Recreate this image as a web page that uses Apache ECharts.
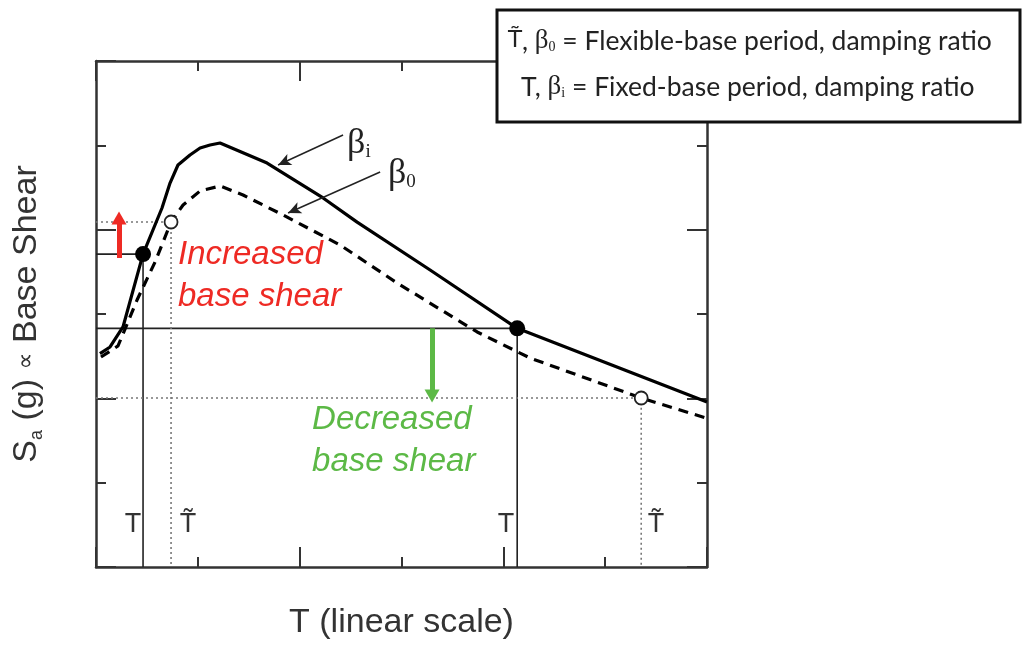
<!DOCTYPE html>
<html><head><meta charset="utf-8">
<script src="https://cdn.jsdelivr.net/npm/echarts@6/dist/echarts.min.js"></script>
<style>html,body{margin:0;padding:0;background:#fff}#c{width:1034px;height:645px}</style>
</head><body><div id="c"></div>
<script>
// Fixed-base spectrum (beta_i), solid
const fixedT  = [0.039,0.138,0.265,0.462,0.648,0.727,0.805,0.923,1.022,1.12,1.218,1.68,2.23,2.564,3.281,4.136,6.0];
const fixedSa = [2.53,2.609,2.846,3.71,4.257,4.553,4.767,4.886,4.969,5.004,5.028,4.79,4.376,4.09,3.522,2.83,1.957];
// Flexible-base spectrum (beta_0), dashed
const flexT  = [0.049,0.216,0.403,0.58,0.737,0.855,1.022,1.218,1.444,1.837,2.397,2.957,3.743,4.263,5.354,5.99];
const flexSa = [2.49,2.621,3.166,3.617,4.091,4.293,4.459,4.518,4.411,4.174,3.818,3.368,2.787,2.478,2.004,1.767];
// Marked periods
const fixedPtT  = [0.462, 4.136];
const fixedPtSa = [3.71, 2.83];
const flexPtT   = [0.737, 5.354];
const flexPtSa  = [4.091, 2.004];
// Change arrows [T, Sa start, Sa end]
const increaseArrow = [0.226, 3.664, 4.139];
const decreaseArrow = [3.30, 2.83, 2.028];
// Tick values
const axisMin = 0, axisMax = 6, axisStep = 2;

const zip = (a, b) => a.map((v, i) => [v, b[i]]);
const RED = '#ee2a24', GREEN = '#5cb946', INK = '#222';

const chart = echarts.init(document.getElementById('c'), null, {renderer: 'canvas'});

function xAx(pos, withName) {
  return {
    type: 'value', min: axisMin, max: axisMax, interval: axisStep, position: pos,
    axisLine: {show: true, onZero: false, lineStyle: {color: '#333', width: 2.5}},
    axisTick: {show: true, inside: true, length: 20, lineStyle: {color: '#333', width: 2}},
    minorTick: {show: true, splitNumber: 2, length: 10, lineStyle: {color: '#333', width: 2}},
    axisLabel: {show: false}, splitLine: {show: false}, minorSplitLine: {show: false},
    name: withName ? 'T (linear scale)' : '', nameLocation: 'middle', nameGap: 39,
    nameTextStyle: {fontFamily: 'Liberation Sans', fontSize: 34, color: '#333'}
  };
}
function yAx(pos, withName) {
  return {
    type: 'value', min: axisMin, max: axisMax, interval: axisStep, position: pos,
    axisLine: {show: true, onZero: false, lineStyle: {color: '#333', width: 2.5}},
    axisTick: {show: true, inside: true, length: 20, lineStyle: {color: '#333', width: 2}},
    minorTick: {show: true, splitNumber: 2, length: 10, lineStyle: {color: '#333', width: 2}},
    axisLabel: {show: false}, splitLine: {show: false}, minorSplitLine: {show: false},
    name: withName ? '{n|S}{s|a}{n| (g) }{p|\u221D}{n| Base Shear}' : '', nameLocation: 'middle', nameGap: 50,
    nameTextStyle: {
      color: '#333',
      rich: {
        n: {fontFamily: 'Liberation Sans', fontSize: 34, color: '#333', lineHeight: 38},
        p: {fontFamily: 'DejaVu Sans', fontSize: 24, color: '#333', lineHeight: 38},
        s: {fontFamily: 'Liberation Sans', fontSize: 18, color: '#333', lineHeight: 24, verticalAlign: 'bottom'}
      }
    }
  };
}

function textPoint(x, y, text, style) {
  return {
    type: 'scatter', symbolSize: 0, silent: true, z: 6,
    itemStyle: {opacity: 1},
    data: [{value: [x, y]}],
    label: Object.assign({show: true, opacity: 1, position: [0, 0], formatter: text}, style)
  };
}

const tStyle = {fontFamily: 'Liberation Sans', fontSize: 27, color: '#333', align: 'center', verticalAlign: 'middle'};
const betaRich = {
  b: {fontFamily: 'Liberation Serif', fontSize: 36, color: '#222'},
  s: {fontFamily: 'Liberation Serif', fontSize: 19, color: '#222', verticalAlign: 'bottom', lineHeight: 28}
};

const option = {
  animation: false,
  backgroundColor: '#fff',
  grid: {left: 96, top: 61, right: 327, bottom: 78, containLabel: false},
  xAxis: [xAx('bottom', true), xAx('top', false)],
  yAxis: [yAx('left', true), yAx('right', false)],
  series: [
    ...fixedPtT.map((t, i) => ({
      type: 'line', symbol: 'none', silent: true, z: 2,
      data: [[axisMin, fixedPtSa[i]], [t, fixedPtSa[i]], [t, axisMin]],
      lineStyle: {color: '#222', width: 1.6}
    })),
    ...flexPtT.map((t, i) => ({
      type: 'line', symbol: 'none', silent: true, z: 2,
      data: [[axisMin, flexPtSa[i]], [t, flexPtSa[i]], [t, axisMin]],
      lineStyle: {color: '#777', width: 1.6, type: [2, 3]}
    })),
    {
      name: 'beta_i', type: 'line', symbol: 'none', z: 4,
      data: zip(fixedT, fixedSa), lineStyle: {color: '#000', width: 3.2}
    },
    {
      name: 'beta_0', type: 'line', symbol: 'none', z: 4,
      data: zip(flexT, flexSa), lineStyle: {color: '#000', width: 3.2, type: [10, 7]}
    },
    {
      type: 'scatter', z: 5, symbol: 'circle', symbolSize: 16,
      data: zip(fixedPtT, fixedPtSa), itemStyle: {color: '#000', opacity: 1}
    },
    {
      type: 'scatter', z: 5, symbol: 'circle', symbolSize: 13,
      data: zip(flexPtT, flexPtSa), itemStyle: {color: '#fff', borderColor: '#222', borderWidth: 1.8, opacity: 1}
    },
    {
      type: 'line', data: [], silent: true, z: 5,
      markLine: {
        silent: true, animation: false, label: {show: false}, emphasis: {disabled: true},
        data: [
          [{coord: [increaseArrow[0], increaseArrow[1]], symbol: 'none', lineStyle: {color: RED, width: 5, type: 'solid'}},
           {coord: [increaseArrow[0], increaseArrow[2]], symbol: 'triangle', symbolSize: [15, 13], lineStyle: {color: RED, width: 5, type: 'solid'}}],
          [{coord: [decreaseArrow[0], decreaseArrow[1]], symbol: 'none', lineStyle: {color: GREEN, width: 5, type: 'solid'}},
           {coord: [decreaseArrow[0], decreaseArrow[2]], symbol: 'triangle', symbolSize: [15, 13], lineStyle: {color: GREEN, width: 5, type: 'solid'}}],
          [{coord: [2.426, 5.123], symbol: 'none', lineStyle: {color: INK, width: 1.5, type: 'solid'}},
           {coord: [1.788, 4.767], symbol: 'arrow', symbolSize: [9, 13], lineStyle: {color: INK, width: 1.5, type: 'solid'}}],
          [{coord: [2.790, 4.684], symbol: 'none', lineStyle: {color: INK, width: 1.5, type: 'solid'}},
           {coord: [1.886, 4.198], symbol: 'arrow', symbolSize: [9, 13], lineStyle: {color: INK, width: 1.5, type: 'solid'}}]
        ]
      }
    },
    textPoint(0.805, 3.45, 'Increased\nbase shear',
      {fontFamily: 'Liberation Sans', fontStyle: 'italic', fontSize: 33, lineHeight: 42, color: RED, align: 'left', verticalAlign: 'middle'}),
    textPoint(2.122, 1.494, 'Decreased\nbase shear',
      {fontFamily: 'Liberation Sans', fontStyle: 'italic', fontSize: 33, lineHeight: 42, color: GREEN, align: 'left', verticalAlign: 'middle'}),
    textPoint(0.363, 0.5, 'T', tStyle),
    textPoint(0.904, 0.5, 'T\u0303', tStyle),
    textPoint(4.027, 0.5, 'T', tStyle),
    textPoint(5.50, 0.5, 'T\u0303', tStyle),
    textPoint(2.466, 5.02, '{b|\u03B2}{s|i}', {rich: betaRich, align: 'left', verticalAlign: 'middle'}),
    textPoint(2.868, 4.66, '{b|\u03B2}{s|0}', {rich: betaRich, align: 'left', verticalAlign: 'middle'})
  ],
  graphic: [
    {type: 'rect', z: 100, shape: {x: 497, y: 10, width: 523, height: 112},
     style: {fill: '#fff', stroke: '#111', lineWidth: 3}},
    {type: 'text', z: 101, x: 508, y: 41,
     style: {text: '{t|T\u0303}{n|, }{g|\u03B2}{s|0}{n| = Flexible-base period, damping ratio}', verticalAlign: 'middle',
       rich: {
         n: {fontFamily: 'Lato', fontSize: 26.5, fill: '#222'},
         t: {fontFamily: 'DejaVu Sans', fontSize: 23, fill: '#222'},
         g: {fontFamily: 'Liberation Serif', fontSize: 27, fill: '#222'},
         s: {fontFamily: 'Liberation Serif', fontSize: 14, fill: '#222', verticalAlign: 'bottom', lineHeight: 20}
       }}},
    {type: 'text', z: 101, x: 521, y: 87,
     style: {text: '{n|T, }{g|\u03B2}{s|i}{n| = Fixed-base period, damping ratio}', verticalAlign: 'middle',
       rich: {
         n: {fontFamily: 'Lato', fontSize: 26.5, fill: '#222'},
         g: {fontFamily: 'Liberation Serif', fontSize: 27, fill: '#222'},
         s: {fontFamily: 'Liberation Serif', fontSize: 14, fill: '#222', verticalAlign: 'bottom', lineHeight: 20}
       }}}
  ]
};
chart.setOption(option);
</script></body></html>
